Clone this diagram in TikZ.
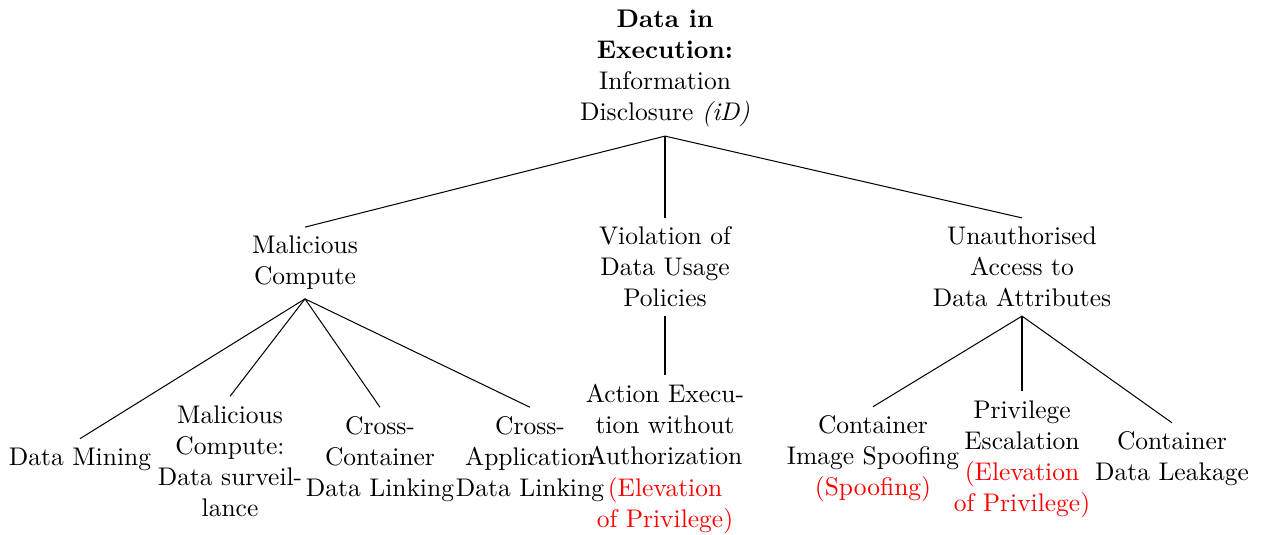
\documentclass[tikz,border=0pt]{standalone}
\begin{document}
\begin{tikzpicture}[x=0.3922pt,y=-0.3922pt,
  tn/.style={align=center,inner sep=3.33pt,anchor=center,font=\fontsize{10}{12.2}\selectfont},
  edge/.style={draw=black,line width=0.4pt}]
\useasboundingbox (0,0) rectangle (1268,535);
\node[tn] (root) at (665,68.5) {\textbf{Data in}\\\textbf{Execution:}\\Information\\Disclosure \textit{(iD)}};
\node[tn] (mc) at (305,263) {Malicious\\Compute};
\node[tn] (vd) at (665,267) {Violation of\\Data Usage\\Policies};
\node[tn] (ua) at (1022,267) {Unauthorised\\Access to\\Data Attributes};
\node[tn] (dm) at (80,459) {Data Mining};
\node[tn] (ds) at (230,461) {Malicious\\Compute:\\Data surveil-\\lance};
\node[tn] (cc) at (380,459) {Cross-\\Container\\Data Linking};
\node[tn] (ca) at (530,459) {Cross-\\Application\\Data Linking};
\node[tn] (ae) at (665,459) {Action Execu-\\tion without\\Authorization\\\textcolor{red}{(Elevation}\\\textcolor{red}{of Privilege)}};
\node[tn] (ci) at (873,459) {Container\\Image Spoofing\\\textcolor{red}{(Spoofing)}};
\node[tn] (pe) at (1022,459) {Privilege\\Escalation\\\textcolor{red}{(Elevation}\\\textcolor{red}{of Privilege)}};
\node[tn] (cl) at (1172,459) {Container\\Data Leakage};
\foreach \c in {mc,vd,ua} \draw[edge] (root.south) -- (\c.north);
\foreach \c in {dm,ds,cc,ca} \draw[edge] (mc.south) -- (\c.north);
\draw[edge] (vd.south) -- (ae.north);
\foreach \c in {ci,pe,cl} \draw[edge] (ua.south) -- (\c.north);
\end{tikzpicture}
\end{document}
